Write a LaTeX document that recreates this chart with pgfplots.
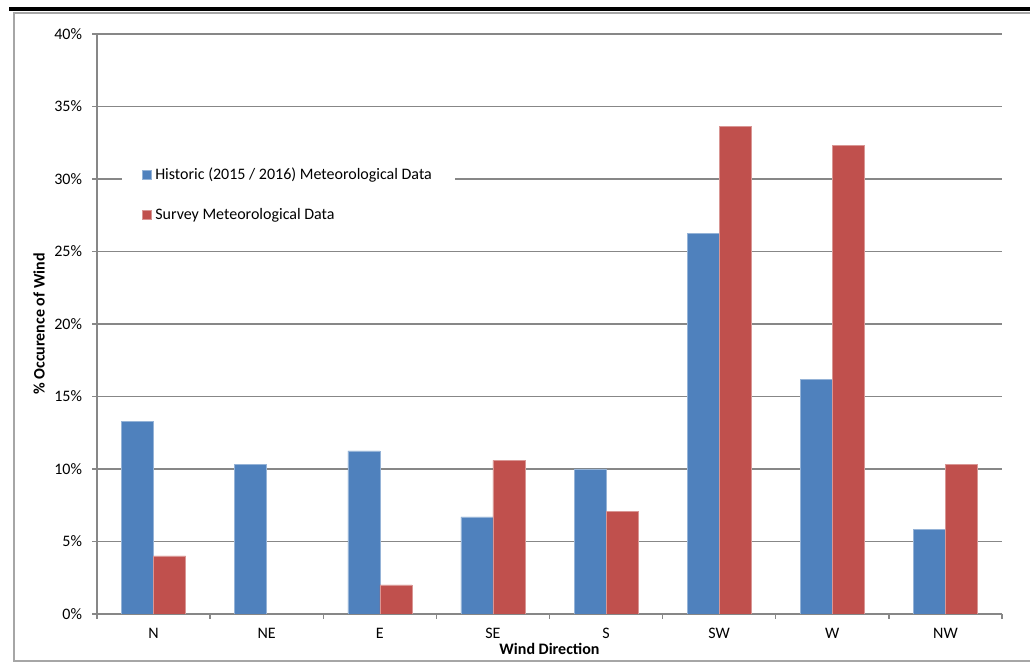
\documentclass[border=0pt]{standalone}
\usepackage{pgfplots}
\pgfplotsset{compat=1.18}
\usepackage{fontspec}
\setmainfont{Carlito}
\definecolor{hblue}{HTML}{4F81BD}
\definecolor{sred}{HTML}{C0504D}
\definecolor{gridgray}{HTML}{878787}
\definecolor{framegray}{HTML}{A6A6A6}
\begin{document}
\fontsize{16bp}{19bp}\selectfont
\begin{tikzpicture}[x=1bp,y=1bp]
\useasboundingbox (0,0) rectangle (1030,669);
\fill[white] (0,0) rectangle (1030,669);
\draw[black, line width=4bp] (9.3,660.3) -- (1040,660.3);
\draw[framegray, line width=1.5bp] (1040,656) -- (14,656) -- (14,8) -- (1040,8);
\begin{axis}[
  at={(97bp,55bp)}, anchor=south west,
  scale only axis, width=905bp, height=580bp,
  ybar=0pt, bar width=32bp,
  xmin=-0.5, xmax=7.5, ymin=0, ymax=40,
  axis lines*=left,
  axis line style={gridgray, line width=1.3bp},
  tick align=outside,
  xtick={0,...,7},
  xticklabels={N,NE,E,SE,S,SW,W,NW},
  major x tick style={draw=none},
  minor xtick={-0.5,0.5,...,7.5},
  minor tick length=5bp,
  minor x tick style={gridgray, line width=1.3bp},
  ytick={0,5,...,40},
  yticklabels={0\%,5\%,10\%,15\%,20\%,25\%,30\%,35\%,40\%},
  major tick length=5bp,
  major y tick style={gridgray, line width=1.3bp},
  ymajorgrids,
  major grid style={gridgray, line width=1.3bp},
  xticklabel style={anchor=base, yshift=-20bp},
  yticklabel style={anchor=east, xshift=-4.5bp},
  every axis x label/.style={at={(axis description cs:0.5,0)}, anchor=center, yshift=-35bp, font=\bfseries},
  every axis y label/.style={at={(axis description cs:0,0.5)}, anchor=center, xshift=-58bp, rotate=90, font=\bfseries},
  xlabel={Wind Direction},
  ylabel={\% Occurence of Wind},
  legend style={at={(rel axis cs:0.0276,0.7228)}, anchor=west, draw=none, fill=white,
    inner xsep=20bp, inner ysep=6bp, row sep=22bp, nodes={inner xsep=3.5bp}},
  legend cell align=left,
  legend image code/.code={\fill[#1] (0bp,-4.5bp) rectangle (9bp,4.5bp);},
]
\addplot[fill=hblue, draw=hblue!60!white, line width=0.6bp] coordinates {
  (0,13.3) (1,10.3) (2,11.25) (3,6.7) (4,10.0) (5,26.25) (6,16.2) (7,5.85)};
\addlegendentry{Historic (2015 / 2016) Meteorological Data}
\addplot[fill=sred, draw=sred!60!white, line width=0.6bp] coordinates {
  (0,4.0) (2,2.0) (3,10.6) (4,7.1) (5,33.6) (6,32.3) (7,10.3)};
\addlegendentry{Survey Meteorological Data}
\end{axis}
\end{tikzpicture}
\end{document}
